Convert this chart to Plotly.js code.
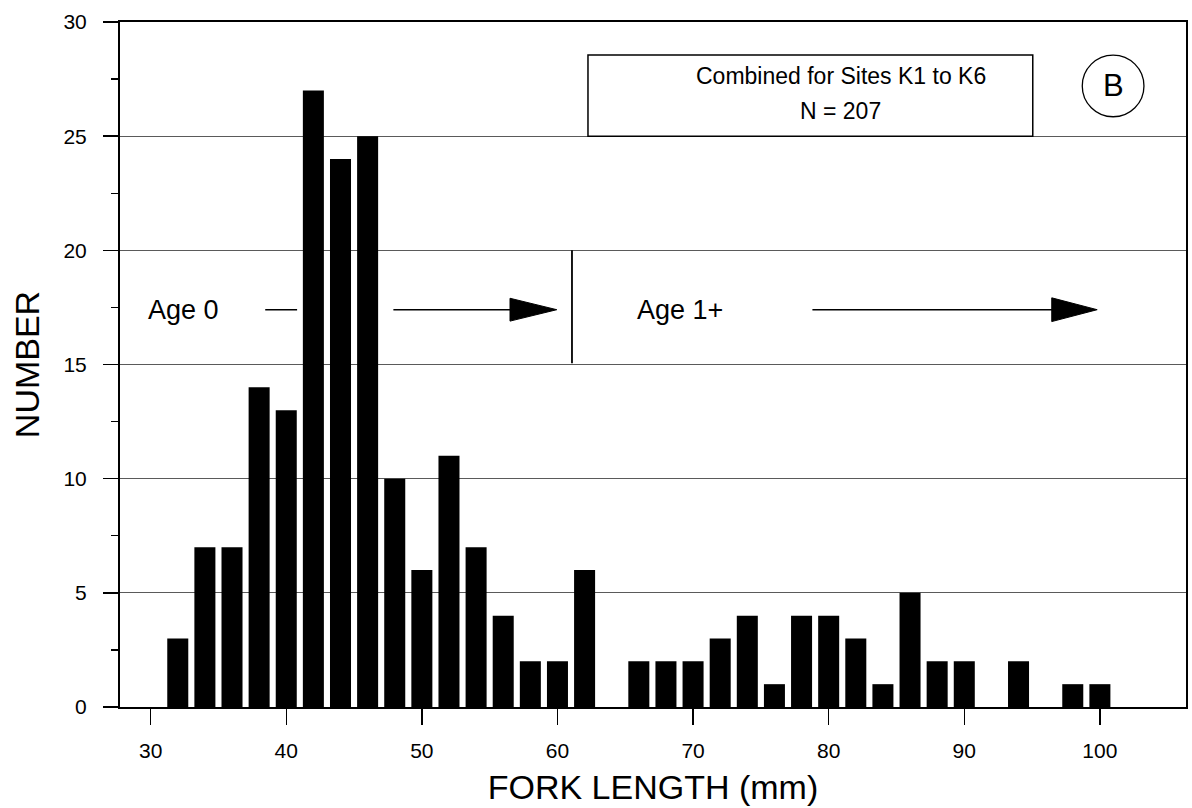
<!DOCTYPE html>
<html>
<head>
<meta charset="utf-8">
<script src="https://cdn.plot.ly/plotly-3.0.1.min.js"></script>
<style>
  html, body { margin: 0; padding: 0; background: #fff; }
  #chart { width: 1192px; height: 808px; }
</style>
</head>
<body>
<div id="chart"></div>
<script>
// ---- Data ----
const forkLength = [32, 34, 36, 38, 40, 42, 44, 46, 48, 50, 52, 54, 56, 58, 60, 62, 64, 66, 68, 70,
                    72, 74, 76, 78, 80, 82, 84, 86, 88, 90, 92, 94, 96, 98, 100];
const counts     = [3, 7, 7, 14, 13, 27, 24, 25, 10, 6, 11, 7, 4, 2, 2, 6, 0, 2, 2, 2,
                    3, 4, 1, 4, 4, 3, 1, 5, 2, 2, 0, 2, 0, 1, 1];
const xTicks = [30, 40, 50, 60, 70, 80, 90, 100];
const yTicks = [0, 5, 10, 15, 20, 25, 30];
const boxLine1 = "Combined for Sites K1 to K6";
const boxLine2 = "N = 207";
const panelLabel = "B";
const age0Label = "Age 0";
const age1Label = "Age 1+";

const FONT = '"Liberation Sans", Arial, Helvetica, sans-serif';

const trace = {
  type: 'bar',
  x: forkLength,
  y: counts,
  marker: { color: '#000000', line: { width: 0 } },
  hoverinfo: 'x+y'
};

// annotation geometry (drawing positions, data coordinates)
const arrowY = 17.4;
const shapes = [
  // label box
  { type: 'rect', xref: 'x', yref: 'y', x0: 62.25, x1: 95.05, y0: 25.0, y1: 28.55,
    line: { color: '#000', width: 1.5 }, fillcolor: 'rgba(0,0,0,0)' },
  // panel circle
  { type: 'circle', xref: 'x', yref: 'y', x0: 98.7, x1: 103.25, y0: 25.85, y1: 28.55,
    line: { color: '#000', width: 1.3 } },
  // Age 0 short dash
  { type: 'line', xref: 'x', yref: 'y', x0: 38.45, x1: 40.8, y0: arrowY, y1: arrowY,
    line: { color: '#000', width: 1.5 } },
  // Age 0 arrow shaft
  { type: 'line', xref: 'x', yref: 'y', x0: 47.9, x1: 57.0, y0: arrowY, y1: arrowY,
    line: { color: '#000', width: 1.5 } },
  // Age 0 arrow head
  { type: 'path', xref: 'x', yref: 'y',
    path: 'M 56.5,' + (arrowY + 0.5) + ' L 59.95,' + arrowY + ' L 56.5,' + (arrowY - 0.5) + ' Z',
    fillcolor: '#000', line: { color: '#000', width: 1 } },
  // divider line
  { type: 'line', xref: 'x', yref: 'y', x0: 61.07, x1: 61.07, y0: 15.05, y1: 20.0,
    line: { color: '#000', width: 1.8 } },
  // Age 1+ arrow shaft
  { type: 'line', xref: 'x', yref: 'y', x0: 78.8, x1: 97.0, y0: arrowY, y1: arrowY,
    line: { color: '#000', width: 1.5 } },
  // Age 1+ arrow head
  { type: 'path', xref: 'x', yref: 'y',
    path: 'M 96.45,' + (arrowY + 0.52) + ' L 99.8,' + arrowY + ' L 96.45,' + (arrowY - 0.52) + ' Z',
    fillcolor: '#000', line: { color: '#000', width: 1 } }
];

const annotations = [
  { xref: 'x', yref: 'y', x: 80.9, y: 27.65, text: boxLine1, showarrow: false,
    font: { family: FONT, size: 23, color: '#000' } },
  { xref: 'x', yref: 'y', x: 80.9, y: 26.1, text: boxLine2, showarrow: false,
    font: { family: FONT, size: 23, color: '#000' } },
  { xref: 'x', yref: 'y', x: 100.97, y: 27.22, text: panelLabel, showarrow: false,
    font: { family: FONT, size: 31, color: '#000' } },
  { xref: 'x', yref: 'y', x: 32.4, y: arrowY, text: age0Label, showarrow: false,
    font: { family: FONT, size: 27, color: '#000' } },
  { xref: 'x', yref: 'y', x: 69.0, y: arrowY, text: age1Label, showarrow: false,
    font: { family: FONT, size: 27, color: '#000' } }
];

const layout = {
  width: 1192,
  height: 808,
  margin: { l: 120, r: 6, t: 22, b: 101, pad: 0 },
  paper_bgcolor: '#ffffff',
  plot_bgcolor: '#ffffff',
  showlegend: false,
  bargap: 0.225,
  font: { family: FONT, color: '#000' },
  xaxis: {
    range: [27.74, 106.35],
    tickmode: 'array',
    tickvals: xTicks,
    ticktext: xTicks.map(String),
    ticks: 'outside',
    ticklen: 16,
    tickwidth: 1.5,
    tickcolor: '#000',
    ticklabelstandoff: 8,
    tickfont: { family: FONT, size: 21, color: '#000' },
    showline: true,
    linecolor: '#000',
    linewidth: 2,
    mirror: true,
    showgrid: false,
    zeroline: false,
    title: { text: 'FORK LENGTH (mm)', font: { family: FONT, size: 34, color: '#000' }, standoff: 14 }
  },
  yaxis: {
    range: [0, 30],
    tickmode: 'array',
    tickvals: yTicks,
    ticktext: yTicks.map(String),
    ticks: 'outside',
    ticklen: 15,
    tickwidth: 1.5,
    tickcolor: '#000',
    ticklabelstandoff: 12,
    tickfont: { family: FONT, size: 21, color: '#000' },
    minor: { dtick: 2.5, tick0: 0, ticks: 'outside', ticklen: 7, tickwidth: 1.2, tickcolor: '#000', showgrid: false },
    showline: true,
    linecolor: '#000',
    linewidth: 2,
    mirror: true,
    showgrid: true,
    gridcolor: '#5a5a5a',
    gridwidth: 1,
    zeroline: false,
    title: { text: 'NUMBER', font: { family: FONT, size: 34, color: '#000' }, standoff: 14 }
  },
  shapes: shapes,
  annotations: annotations
};

Plotly.newPlot('chart', [trace], layout, { displayModeBar: false, staticPlot: true });
</script>
</body>
</html>
